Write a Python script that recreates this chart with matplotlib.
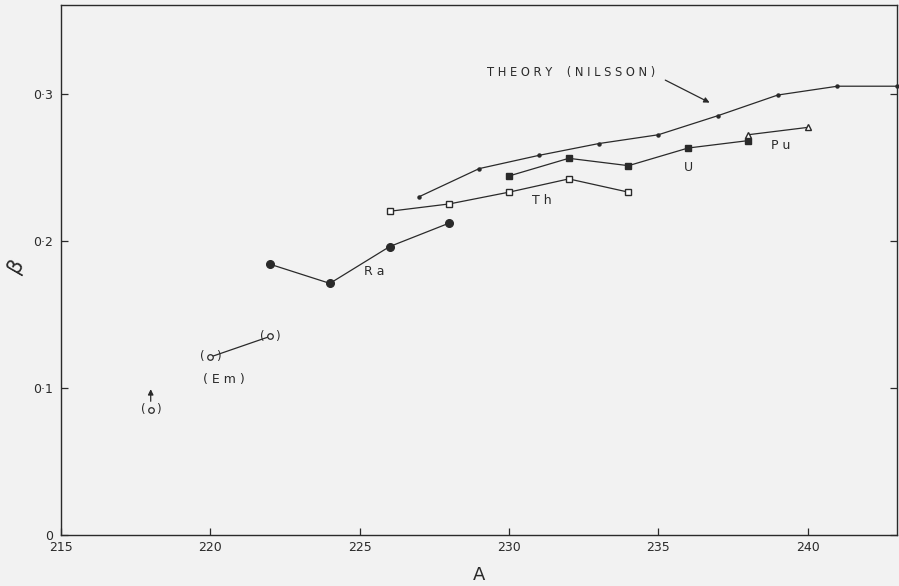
import matplotlib
matplotlib.use('Agg')
import matplotlib.pyplot as plt
from matplotlib.ticker import FixedLocator

# Nilsson theory curve
theory_a = [227, 229, 231, 233, 235, 237, 239, 241, 243]
theory_b = [0.230, 0.249, 0.258, 0.266, 0.272, 0.285, 0.299, 0.305, 0.305]

ra_a = [222, 224, 226, 228]
ra_b = [0.184, 0.171, 0.196, 0.212]

th_a = [226, 228, 230, 232, 234]
th_b = [0.220, 0.225, 0.233, 0.242, 0.233]

u_a = [230, 232, 234, 236, 238]
u_b = [0.244, 0.256, 0.251, 0.263, 0.268]

pu_a = [238, 240]
pu_b = [0.272, 0.277]

em_a = [220, 222]
em_b = [0.121, 0.135]
em_lower_a = 218
em_lower_b = 0.085

x_ticks = [215, 220, 225, 230, 235, 240]
x_labels = ['215', '220', '225', '230', '235', '240']
y_ticks = [0, 0.1, 0.2, 0.3]
y_labels = ['0', '0\u00b71', '0\u00b72', '0\u00b73']

ink = '#2a2a2a'
bg = '#f2f2f2'

plt.rcParams['font.family'] = ['DejaVu Sans']
fig = plt.figure(figsize=(8.99, 5.86), dpi=100, facecolor=bg)
ax = fig.add_axes([0.068, 0.087, 0.930, 0.904])
ax.set_facecolor(bg)

ax.plot(theory_a, theory_b, color=ink, lw=0.9, marker='o', ms=2.2, clip_on=False)
ax.plot(ra_a, ra_b, color=ink, lw=0.9, marker='o', ms=5.5)
ax.plot(th_a, th_b, color=ink, lw=0.9, marker='s', ms=5, mfc='white', mew=1.0)
ax.plot(u_a, u_b, color=ink, lw=0.9, marker='s', ms=5)
ax.plot(pu_a, pu_b, color=ink, lw=0.9, marker='^', ms=5, mfc='white', mew=1.0)

# Em points (bracketed)
ax.plot(em_a, em_b, color=ink, lw=0.9)
em_all_a = em_a + [em_lower_a]
em_all_b = em_b + [em_lower_b]
ax.plot(em_all_a, em_all_b, ls='none', marker='o', ms=4, mfc=bg, mec=ink, mew=0.9)
for a, b in zip(em_all_a, em_all_b):
    for ch, dx in (('(', -5.5), (')', 5.5)):
        ax.annotate(ch, xy=(a, b), xytext=(dx, 0), textcoords='offset points',
                    ha='center', va='center', fontsize=8.5, color=ink)
ax.annotate('', xy=(em_lower_a, 0.101), xytext=(em_lower_a, em_lower_b + 0.004),
            arrowprops=dict(arrowstyle='-|>', color=ink, lw=0.9, mutation_scale=8))

# labels
ax.text(229.25, 0.314, 'T H E O R Y    ( N I L S S O N )', fontsize=8.3, color=ink,
        ha='left', va='center')
ax.annotate('', xy=(236.8, 0.293), xytext=(235.15, 0.310),
            arrowprops=dict(arrowstyle='-|>', color=ink, lw=0.9, mutation_scale=8))
ax.text(225.5, 0.179, 'R a', fontsize=9, color=ink, ha='center', va='center')
ax.text(231.1, 0.227, 'T h', fontsize=9, color=ink, ha='center', va='center')
ax.text(236.0, 0.250, 'U', fontsize=9, color=ink, ha='center', va='center')
ax.text(239.1, 0.265, 'P u', fontsize=9, color=ink, ha='center', va='center')
ax.text(220.45, 0.1055, '( E m )', fontsize=9, color=ink, ha='center', va='center')

ax.set_xlim(215, 243)
ax.set_ylim(0, 0.36)
ax.xaxis.set_major_locator(FixedLocator(x_ticks))
ax.yaxis.set_major_locator(FixedLocator(y_ticks))
ax.set_xticklabels(x_labels)
ax.set_yticklabels(y_labels)
ax.tick_params(direction='in', length=5, width=0.9, color=ink, labelcolor=ink,
               labelsize=9, right=True)
ax.tick_params(axis='y', pad=6)
ax.tick_params(axis='x', pad=4)
for s in ax.spines.values():
    s.set_color(ink)
    s.set_linewidth(1.0)

ax.set_xlabel('A', fontsize=13, color=ink, labelpad=9)
ax.set_ylabel('\u03b2', fontsize=15, color=ink, rotation=60, labelpad=6)

fig.savefig('out.png', dpi=100, facecolor=bg)
